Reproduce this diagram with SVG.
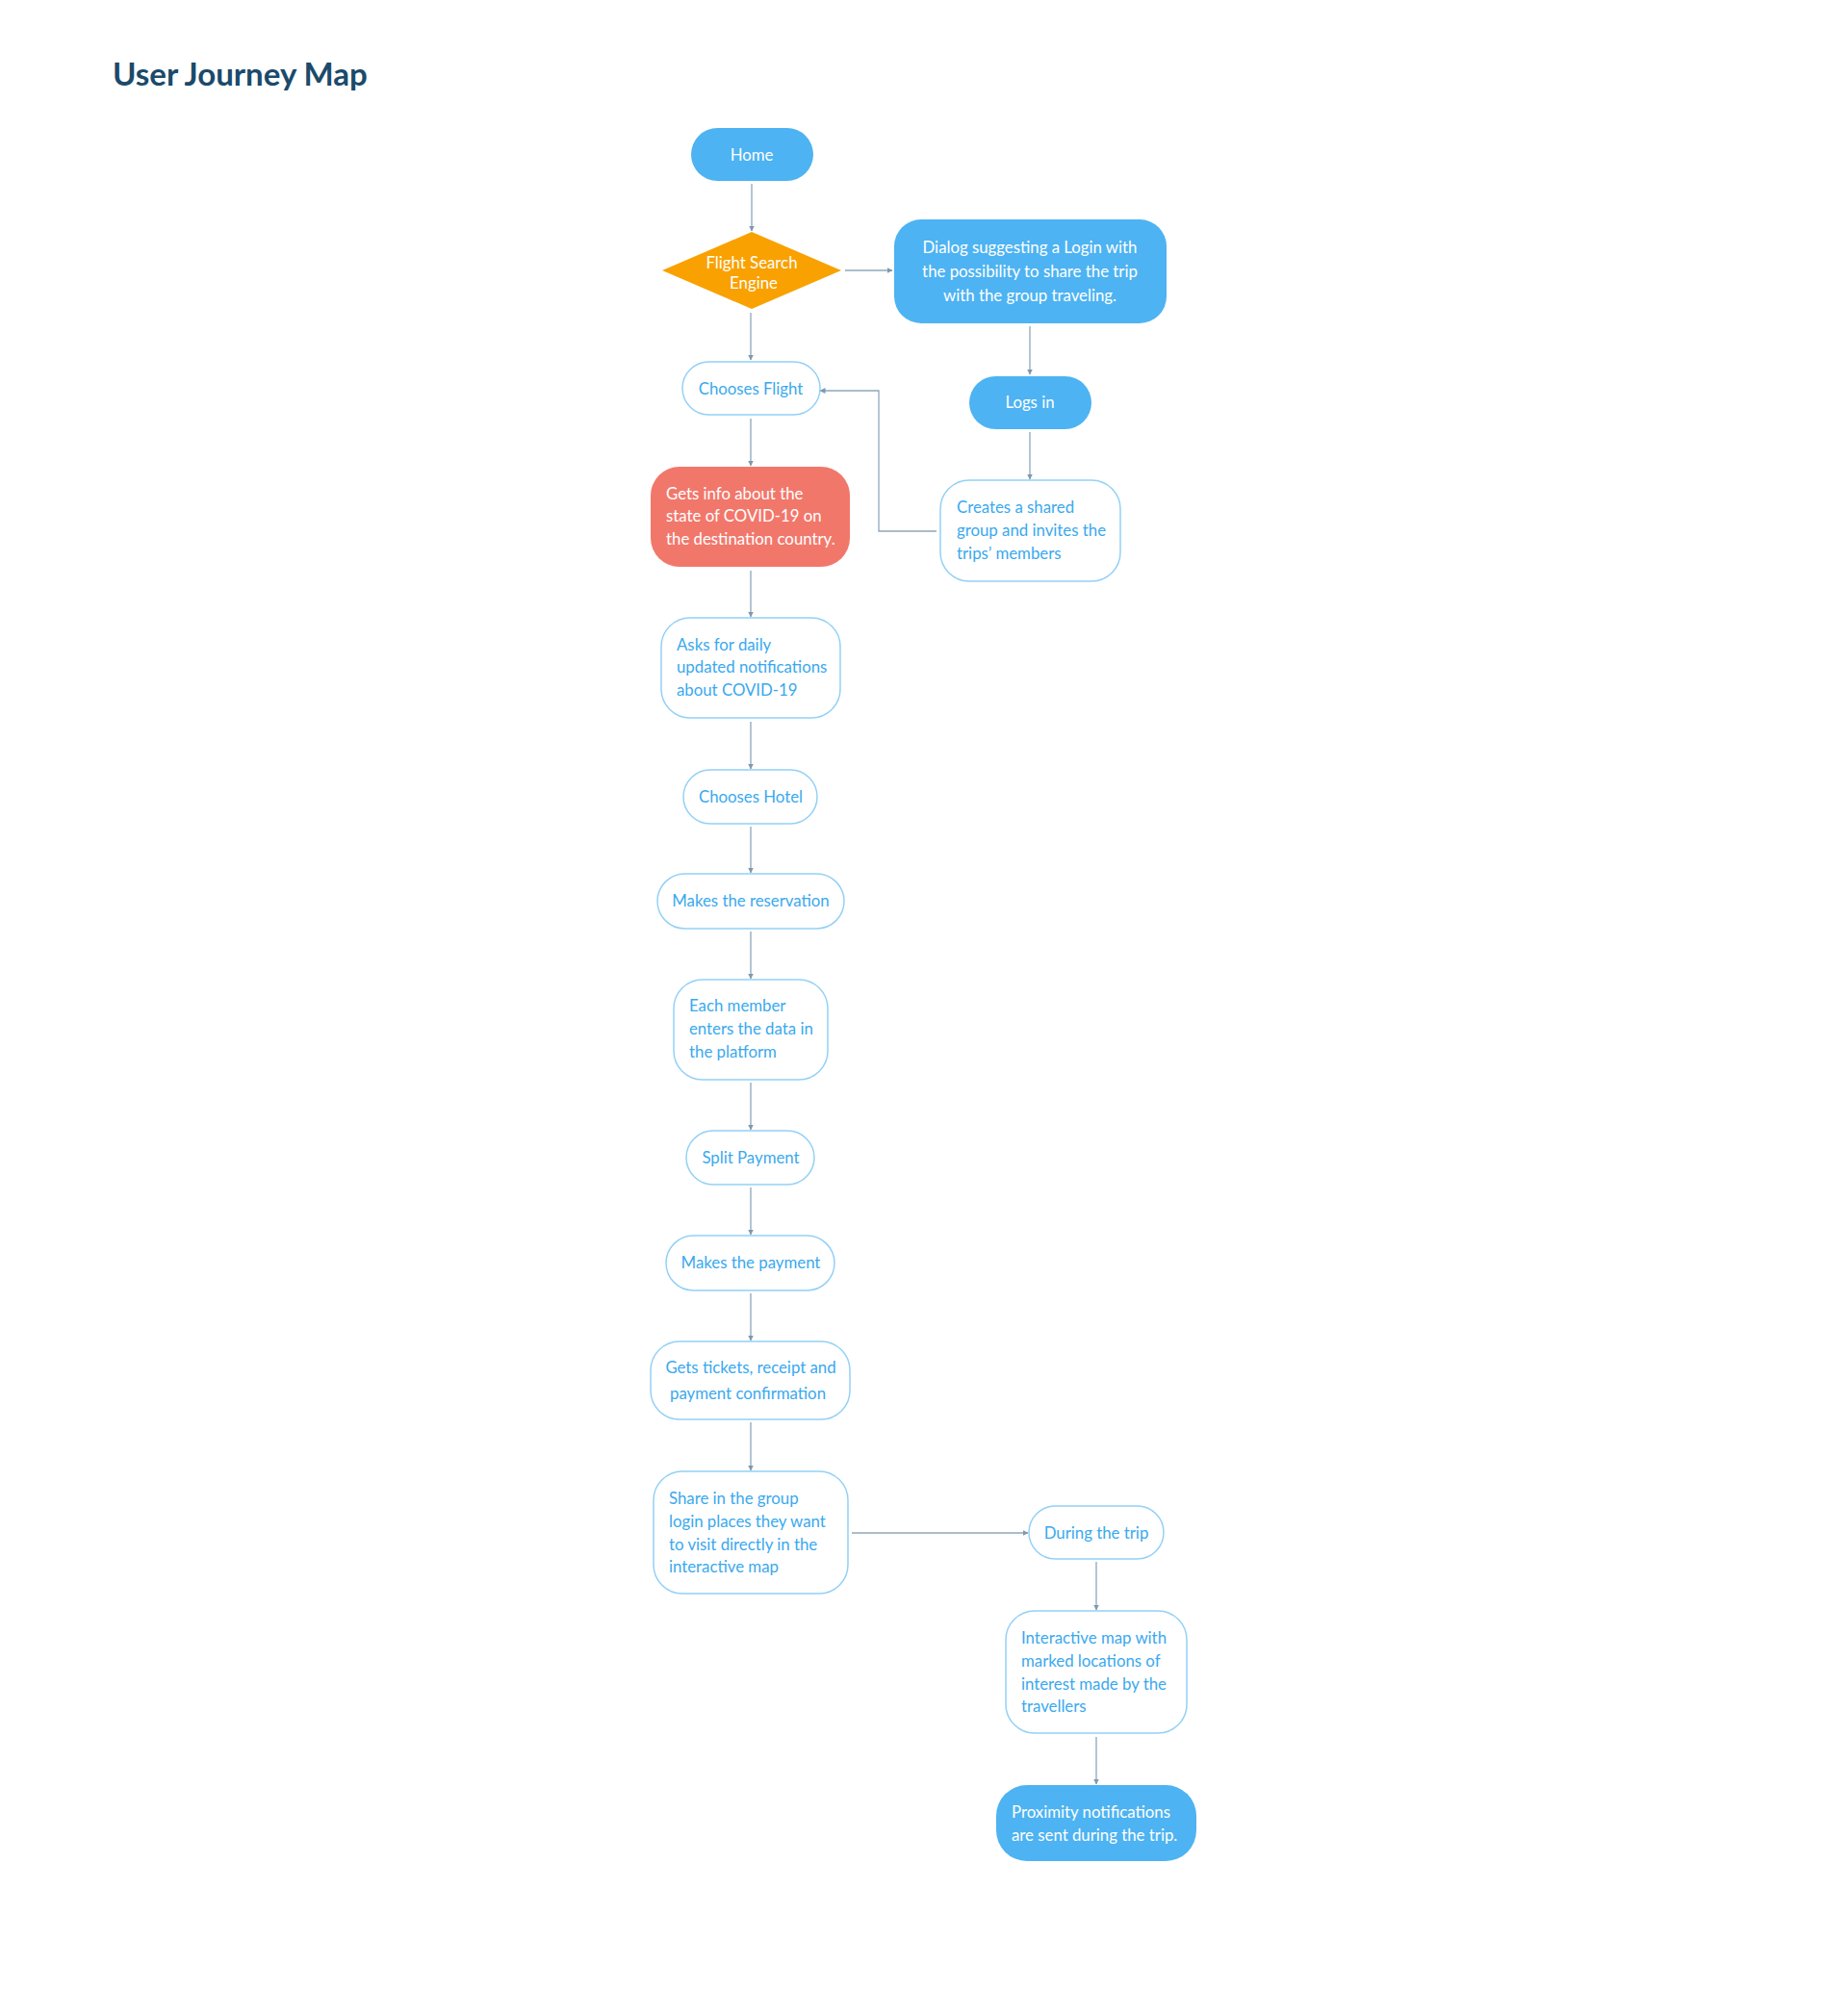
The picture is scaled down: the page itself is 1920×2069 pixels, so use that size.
<svg xmlns="http://www.w3.org/2000/svg" width="1920" height="2069" viewBox="0 0 1920 2069">
<style>
text{font-family:Lato,"Open Sans","Liberation Sans",sans-serif;font-size:16.8px}
.title{font-size:33px;font-weight:700;fill:#1b4a6b}
.fill{fill:#4db3f2}
.out{fill:#ffffff;stroke:#93d1f6;stroke-width:1.5}
.wt{fill:#ffffff}
.bt{fill:#3aa9ee}
.c{text-anchor:middle}
.conn line,.conn polyline{fill:none;stroke:#8ea7ba;stroke-width:1.3}
</style>
<defs>
<marker id="ah" viewBox="0 0 6 6" refX="5.5" refY="3" markerWidth="6" markerHeight="6" markerUnits="userSpaceOnUse" orient="auto">
<path d="M0,0 L6,3 L0,6 z" fill="#7f99ad"/>
</marker>
</defs>
<rect width="1920" height="2069" fill="#ffffff"/>
<text class="title" x="117" y="89">User Journey Map</text>

<g class="conn">
<line x1="781" y1="191" x2="781" y2="240" marker-end="url(#ah)"/>
<line x1="878" y1="281" x2="927" y2="281" marker-end="url(#ah)"/>
<line x1="780" y1="325" x2="780" y2="374" marker-end="url(#ah)"/>
<line x1="1070" y1="339" x2="1070" y2="389" marker-end="url(#ah)"/>
<line x1="1070" y1="449" x2="1070" y2="498" marker-end="url(#ah)"/>
<polyline points="973,552 913,552 913,406 852,406" marker-end="url(#ah)"/>
<line x1="780" y1="435" x2="780" y2="484" marker-end="url(#ah)"/>
<line x1="780" y1="593" x2="780" y2="641" marker-end="url(#ah)"/>
<line x1="780" y1="750" x2="780" y2="799" marker-end="url(#ah)"/>
<line x1="780" y1="859" x2="780" y2="907" marker-end="url(#ah)"/>
<line x1="780" y1="968" x2="780" y2="1017" marker-end="url(#ah)"/>
<line x1="780" y1="1125" x2="780" y2="1174" marker-end="url(#ah)"/>
<line x1="780" y1="1234" x2="780" y2="1283" marker-end="url(#ah)"/>
<line x1="780" y1="1344" x2="780" y2="1393" marker-end="url(#ah)"/>
<line x1="780" y1="1478" x2="780" y2="1528" marker-end="url(#ah)"/>
<line x1="885" y1="1593" x2="1068" y2="1593" marker-end="url(#ah)"/>
<line x1="1139" y1="1623" x2="1139" y2="1673" marker-end="url(#ah)"/>
<line x1="1139" y1="1805" x2="1139" y2="1854" marker-end="url(#ah)"/>
</g>

<g id="home"><rect class="fill" x="718" y="133" width="127" height="55" rx="27.5"/><text class="wt c" x="781" y="167">Home</text></g>
<g id="flight-search"><polygon points="688,281 781,241 874,281 781,321" fill="#f9a100"/><text class="wt c" x="781" y="279">Flight Search</text><text class="wt c" x="783" y="300">Engine</text></g>
<g id="dialog"><rect class="fill" x="929" y="228" width="283" height="108" rx="28"/><text class="wt c" x="1070" y="263">Dialog suggesting a Login with</text><text class="wt c" x="1070" y="288">the possibility to share the trip</text><text class="wt c" x="1070" y="313">with the group traveling.</text></g>
<g id="chooses-flight"><rect class="out" x="709" y="376" width="143" height="55" rx="27.5"/><text class="bt c" x="780" y="410">Chooses Flight</text></g>
<g id="logs-in"><rect class="fill" x="1007" y="391" width="127" height="55" rx="27.5"/><text class="wt c" x="1070" y="424">Logs in</text></g>
<g id="covid-info"><rect x="676" y="485" width="207" height="104" rx="30" fill="#f2776b"/><text class="wt" x="692" y="519">Gets info about the</text><text class="wt" x="692" y="542">state of COVID-19 on</text><text class="wt" x="692" y="566">the destination country.</text></g>
<g id="shared-group"><rect class="out" x="977" y="499" width="187" height="105" rx="30"/><text class="bt" x="994" y="533">Creates a shared</text><text class="bt" x="994" y="557">group and invites the</text><text class="bt" x="994" y="581">trips’ members</text></g>
<g id="daily-notifications"><rect class="out" x="687" y="642" width="186" height="104" rx="30"/><text class="bt" x="703" y="676">Asks for daily</text><text class="bt" x="703" y="699">updated notifications</text><text class="bt" x="703" y="723">about COVID-19</text></g>
<g id="chooses-hotel"><rect class="out" x="710" y="800" width="139" height="56" rx="28"/><text class="bt c" x="780" y="834">Chooses Hotel</text></g>
<g id="reservation"><rect class="out" x="683" y="908" width="194" height="57" rx="28.5"/><text class="bt c" x="780" y="942">Makes the reservation</text></g>
<g id="member-data"><rect class="out" x="700" y="1018" width="160" height="104" rx="30"/><text class="bt" x="716" y="1051">Each member</text><text class="bt" x="716" y="1075">enters the data in</text><text class="bt" x="716" y="1099">the platform</text></g>
<g id="split-payment"><rect class="out" x="713" y="1175" width="133" height="56" rx="28"/><text class="bt c" x="780" y="1209">Split Payment</text></g>
<g id="makes-payment"><rect class="out" x="692" y="1284" width="175" height="57" rx="28.5"/><text class="bt c" x="780" y="1318">Makes the payment</text></g>
<g id="tickets"><rect class="out" x="676" y="1394" width="207" height="81" rx="30"/><text class="bt c" x="780" y="1427">Gets tickets, receipt and</text><text class="bt c" x="777" y="1454">payment confirmation</text></g>
<g id="share-places"><rect class="out" x="679" y="1529" width="202" height="127" rx="30"/><text class="bt" x="695" y="1563">Share in the group</text><text class="bt" x="695" y="1587">login places they want</text><text class="bt" x="695" y="1611">to visit directly in the</text><text class="bt" x="695" y="1634">interactive map</text></g>
<g id="during-trip"><rect class="out" x="1069" y="1565" width="140" height="55" rx="27.5"/><text class="bt c" x="1139" y="1599">During the trip</text></g>
<g id="interactive-map"><rect class="out" x="1045" y="1674" width="188" height="127" rx="30"/><text class="bt" x="1061" y="1708">Interactive map with</text><text class="bt" x="1061" y="1732">marked locations of</text><text class="bt" x="1061" y="1756">interest made by the</text><text class="bt" x="1061" y="1779">travellers</text></g>
<g id="proximity"><rect class="fill" x="1035" y="1855" width="208" height="79" rx="32"/><text class="wt" x="1051" y="1889">Proximity notifications</text><text class="wt" x="1051" y="1913">are sent during the trip.</text></g>
</svg>
